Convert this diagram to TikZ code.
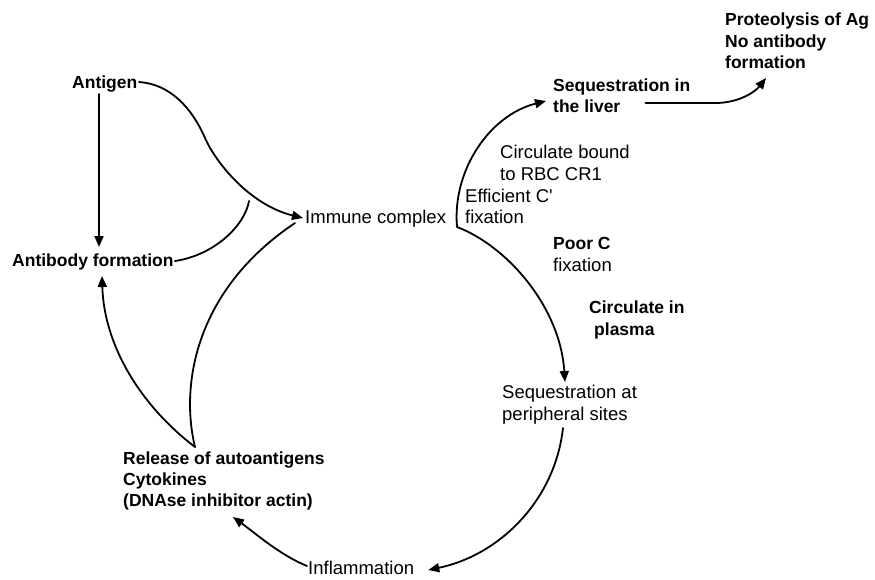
\documentclass[tikz,border=0pt]{standalone}
\usepackage{fontspec}
\setmainfont{Liberation Sans}
\usetikzlibrary{arrows.meta,calc}
\tikzset{
  tb/.style={font=\fontsize{17.5}{21.5}\selectfont\bfseries, inner sep=0pt, anchor=base west},
  tr/.style={font=\fontsize{18.5}{21.5}\selectfont, inner sep=0pt, anchor=base west},
  con/.style={line width=1.8pt, line cap=round},
  arr/.style={con, -{Triangle[length=11pt,width=9pt]}}
}
\begin{document}
\begin{tikzpicture}[x=1pt,y=-1pt]
\useasboundingbox (0,0) rectangle (875,579);
% texts
\node[tb] (antigen) at (72,88) {Antigen};
\node[tb] (antibody) at (12,266) {Antibody formation};
\node[tr] (immune) at (305,223) {Immune complex};
\node[tr] (eff1) at (465,202) {Efficient C\textquotesingle};
\node[tr] (eff2) at (465,223) {fixation};
\node[tr] (circ1) at (500,158) {Circulate bound};
\node[tr] (circ2) at (500,180) {to RBC CR1};
\node[tb] (seq1) at (553,91) {Sequestration in};
\node[tb] (seq2) at (553,112) {the liver};
\node[tb] (prot1) at (725,25) {Proteolysis of Ag};
\node[tb] (prot2) at (725,47) {No antibody};
\node[tb] (prot3) at (725,68) {formation};
\node[tb] (poor1) at (553,249) {Poor C};
\node[tr] (poor2) at (553,271) {fixation};
\node[tb] (plas1) at (589,313) {Circulate in};
\node[tb] (plas2) at (594,335) {plasma};
\node[tr] (per1) at (502,398) {Sequestration at};
\node[tr] (per2) at (502,420) {peripheral sites};
\node[tb] (rel1) at (123,464) {Release of autoantigens};
\node[tb] (rel2) at (123,485) {Cytokines};
\node[tb] (rel3) at (123,506) {(DNAse inhibitor actin)};
\node[tr] (infl) at (308,574) {Inflammation};
% key points
\coordinate (j1) at (249,201);
\coordinate (cusp) at ($(rel1.base west)+(72,-17)$);
\coordinate (vtx) at ($(immune.base west)+(152,4)$);
\coordinate (ictip) at ($(immune.base west)+(-2,-5)$);
% connectors
\draw[arr] ($(antigen.base west)+(27,6)$) -- ($(antibody.base west)+(87,-19)$);
\draw[arr] ($(antigen.base west)+(67,-6)$) .. controls (170,84) and (192,108) .. (205,138)
  .. controls (216,163) and (250,205) .. (ictip);
\draw[con] ($(antibody.base west)+(163,-5)$) .. controls (215,255) and (245,225) .. (j1);
\draw[con] (cusp) .. controls (180,385) and (195,290) .. ($(ictip)+(-8,5)$);
\draw[arr] (cusp) .. controls (140,405) and (104,345) .. ($(antibody.base west)+(90,10)$);
\draw[arr] (vtx) .. controls (452,170) and (490,115) .. ($(seq2.base west)+(-7,-11)$);
\draw[arr] (vtx) .. controls (505,245) and (560,305) .. ($(per1.base west)+(63,-16)$);
\draw[arr] ($(seq2.base east)+(25,-9)$) -- (718,103) .. controls (740,102) and (755,92) .. ($(prot3.base west)+(41,10)$);
\draw[arr] ($(per2.base west)+(61,8)$) .. controls (555,500) and (500,555) .. ($(infl.base east)+(14,-4)$);
\draw[arr] ($(infl.base west)+(-1,-8)$) .. controls (280,555) and (255,533) .. ($(rel3.base west)+(110,11)$);
\end{tikzpicture}
\end{document}
